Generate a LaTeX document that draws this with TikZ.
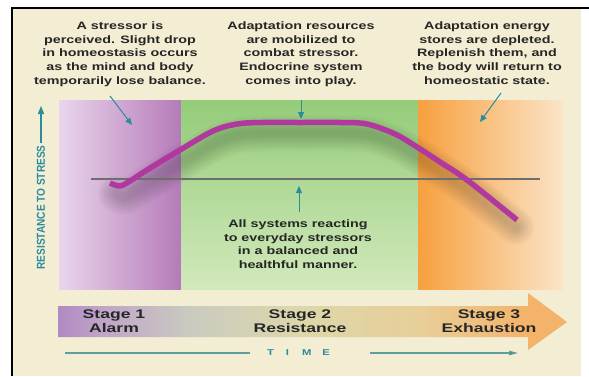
\documentclass[tikz,border=0pt]{standalone}
\usepackage{fontspec}
\setmainfont{Liberation Sans}
\newfontfamily\wideA[FakeStretch=1.33]{Liberation Sans}
\newfontfamily\wideB[FakeStretch=1.4]{Liberation Sans}
\newfontfamily\narrowA[FakeStretch=0.88]{Liberation Sans}
\usetikzlibrary{arrows.meta}
\definecolor{bgbeige}{HTML}{F2EDD3}
\definecolor{txt}{HTML}{262626}
\definecolor{teal1}{HTML}{2A8C9C}
\definecolor{timeline}{HTML}{5E9E9C}
\definecolor{curvec}{HTML}{B0389E}
\definecolor{gline}{HTML}{6E6E6E}
\definecolor{purL}{HTML}{EAD5EC}
\definecolor{purR}{HTML}{B47BB8}
\definecolor{grnT}{HTML}{94CC79}
\definecolor{grnB}{HTML}{D2E9BC}
\definecolor{orgL}{HTML}{F7A03E}
\definecolor{orgR}{HTML}{FBE4C8}
\definecolor{bandP}{HTML}{B08AC2}
\definecolor{bandP2}{HTML}{BFA3C8}
\definecolor{bandG}{HTML}{CACBC0}
\definecolor{bandY}{HTML}{DDD7AA}
\definecolor{bandY2}{HTML}{E8CE98}
\definecolor{bandO}{HTML}{F4B36A}
\pgfdeclarehorizontalshading{bandshade}{100bp}{color(0bp)=(bandP); color(25bp)=(bandP); color(29bp)=(bandP2); color(38bp)=(bandG); color(49bp)=(bandY); color(61bp)=(bandY2); color(71bp)=(bandO); color(75bp)=(bandO); color(100bp)=(bandO)}
\begin{document}
\begin{tikzpicture}[x=1bp,y=-1bp,
  txtnode/.style={font=\wideA\bfseries\fontsize{10.8}{13.7}\selectfont, text=txt, align=center, inner sep=0pt, anchor=north},
  stagenode/.style={font=\wideB\bfseries\fontsize{12.6}{14}\selectfont, text=txt, align=center, inner sep=0pt, anchor=north},
  tealarrow/.style={teal1, line width=1bp, -{Triangle[length=7bp,width=6bp]}},
  curvepath/.style={line cap=round, line join=round}
]
\useasboundingbox (0,0) rectangle (589,376);
% background
\fill[bgbeige] (13,9) rectangle (581,376);
\draw[black, line width=1.2bp] (12,376) -- (12,8) -- (589,8);
% stage regions
\fill[left color=purL, right color=purR] (59,100) rectangle (181,289);
\fill[top color=grnT, bottom color=grnB] (181,100) rectangle (418,289);
\fill[left color=orgL, right color=orgR] (418,100) rectangle (563,289);
% soft shadow of the curve
\begin{scope}
\clip (59,100) rectangle (563,289);
\foreach \w in {36,32,28,24,20,16,12,8}{
  \draw[black, opacity=0.022, line width=\w bp, shift={(4,11)}, curvepath]
    plot[smooth, tension=0.55] coordinates {(112,183) (120,186) (130,181) (147,170) (180,150) (213,131) (237,124) (262,122.5) (300,122.5) (340,122.5) (367,124) (395,134) (417,147) (440,162) (467,180) (512,216)};
}
\end{scope}
% baseline
\coordinate (bl1) at (91,179);
\coordinate (bl2) at (540,179);
\draw[gline, line width=1.2bp] (bl1) -- (bl2);
% curve
\draw[curvec, line width=5.5bp, line cap=butt, line join=round]
  plot[smooth, tension=0.55] coordinates {(110,183) (120,186) (130,181) (147,170) (180,150) (213,131) (237,124) (262,122.5) (300,122.5) (340,122.5) (367,124) (395,134) (417,147) (440,162) (467,180) (517,220)};
% texts
\node[txtnode] (t1) at (120,21.5) {A stressor is\\perceived. Slight drop\\in homeostasis occurs\\as the mind and body\\temporarily lose balance.};
\node[txtnode] (t2) at (301,21.5) {Adaptation resources\\are mobilized to\\combat stressor.\\Endocrine system\\comes into play.};
\node[txtnode] (t3) at (487,21.5) {Adaptation energy\\stores are depleted.\\Replenish them, and\\the body will return to\\homeostatic state.};
\node[txtnode] (t4) at (298,219.5) {All systems reacting\\to everyday stressors\\in a balanced and\\healthful manner.};
% teal arrows
\coordinate (a1s) at (110,96);  \coordinate (a1e) at (132,125);
\coordinate (a2s) at (301,100); \coordinate (a2e) at (301,119);
\coordinate (a3s) at (299,212); \coordinate (a3e) at (299,186);
\coordinate (a4s) at (501,93);  \coordinate (a4e) at (480,122);
\draw[tealarrow] (a1s) -- (a1e);
\draw[tealarrow] (a2s) -- (a2e);
\draw[tealarrow] (a3s) -- (a3e);
\draw[tealarrow] (a4s) -- (a4e);
% y axis label
\node[font=\narrowA\bfseries\fontsize{11.5}{12}\selectfont, text=teal1, rotate=90, inner sep=0pt] (ylab) at (41,207.5) {RESISTANCE TO STRESS};
\coordinate (ytop) at (41,106);
\draw[teal1, line width=1.1bp, -{Triangle[length=8bp,width=6bp]}] (ylab.east) ++(0,-2) -- (ytop);
% band arrow
\shade[shading=bandshade] (58,306) -- (528,306) -- (528,293) -- (567,322) -- (528,350) -- (528,337) -- (58,337) -- cycle;
\node[stagenode] (s1) at (114,309.7) {Stage 1\\Alarm};
\node[stagenode] (s2) at (300,309.7) {Stage 2\\Resistance};
\node[stagenode] (s3) at (489,309.7) {Stage 3\\Exhaustion};
% time
\node[font=\wideA\bfseries\fontsize{8.5}{10}\selectfont, text=teal1, inner sep=0pt] (time) at (298.5,353) {T\hspace{12pt}I\hspace{13pt}M\hspace{11pt}E};
\coordinate (tl1) at (65,353); \coordinate (tl2) at (250,353);
\coordinate (tr1) at (370,353); \coordinate (tr2) at (518,353);
\draw[timeline, line width=1.2bp] (tl1) -- (tl2);
\draw[timeline, line width=1.2bp, -{Triangle[length=9bp,width=4.5bp,fill=teal1]}] (tr1) -- (tr2);
\end{tikzpicture}
\end{document}
